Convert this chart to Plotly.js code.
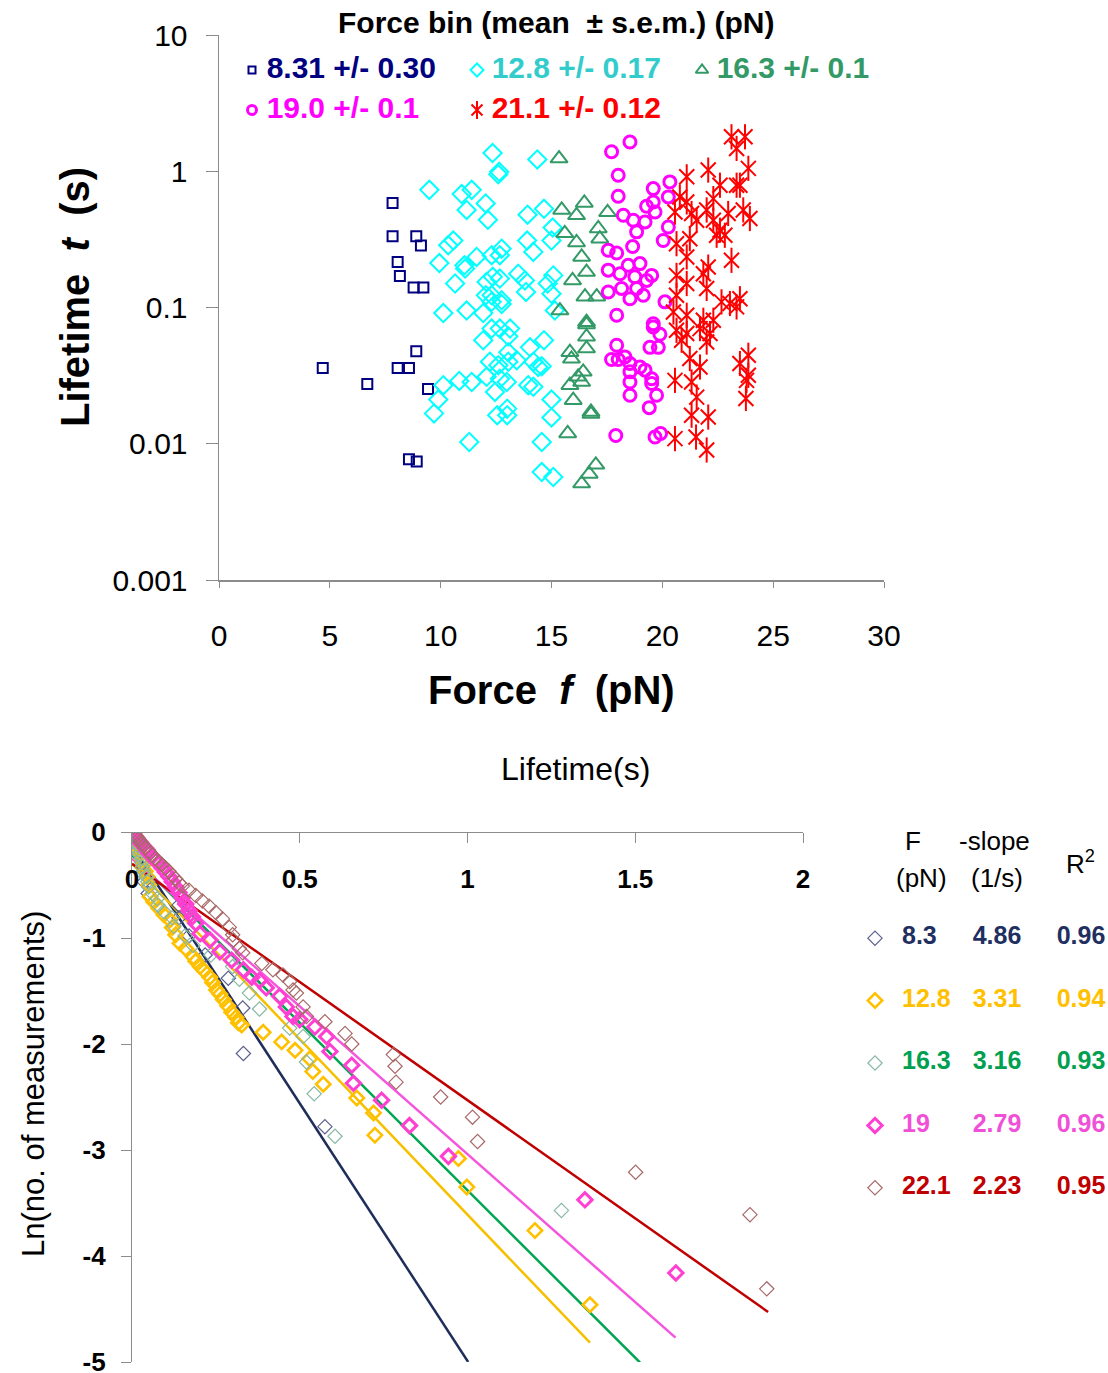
<!DOCTYPE html>
<html><head><meta charset="utf-8">
<script src="https://cdn.plot.ly/plotly-3.0.1.min.js"></script>
<style>html,body{margin:0;padding:0;background:#fff}#chart{width:1108px;height:1373px}</style>
</head><body><div id="chart"></div>
<script>
// ---------------- TOP CHART DATA (force in pN, lifetime in s) ----------------
const binMeans = ["8.31", "12.8", "16.3", "19.0", "21.1"];
const binSems  = ["0.30", "0.17", "0.1", "0.1", "0.12"];

const navyF = [7.83,7.83,8.90,9.11,8.06,8.16,8.78,9.22,8.90,4.68,8.06,8.57,6.69,9.43,8.57,8.92];
const navyT = [0.585,0.333,0.333,0.285,0.216,0.170,0.140,0.140,0.0477,0.036,0.036,0.036,0.0275,0.0252,0.0077,0.0074];

const cyanF = [12.34,14.36,12.64,12.60,9.49,10.95,11.40,12.03,11.17,12.13,13.92,14.66,15.05,15.00,10.57,10.34,13.90,14.18,9.94,11.07,
  11.10,11.62,12.30,12.75,12.67,10.65,12.07,12.35,12.67,12.04,12.30,12.75,13.50,13.80,13.85,15.08,15.00,14.83,15.15,
  10.12,11.17,11.92,12.75,12.30,11.92,12.30,12.67,13.13,13.05,14.03,14.66,13.05,12.22,12.60,13.05,13.43,14.18,14.40,14.56,
  12.07,12.67,12.98,13.95,14.18,10.12,10.84,11.40,9.89,9.70,12.45,12.55,13.00,13.00,15.00,15.00,11.29,14.56,14.56,15.08];
const cyanT = [1.36,1.22,0.99,0.95,0.73,0.68,0.73,0.58,0.52,0.44,0.48,0.53,0.386,0.31,0.31,0.286,0.31,0.256,0.212,0.204,
  0.193,0.235,0.242,0.27,0.242,0.15,0.154,0.168,0.163,0.123,0.123,0.113,0.177,0.158,0.13,0.172,0.126,0.15,0.095,
  0.091,0.095,0.091,0.106,0.11,0.0575,0.07,0.07,0.07,0.0615,0.051,0.0575,0.047,0.040,0.0377,0.040,0.041,0.040,0.0366,0.037,
  0.031,0.030,0.0284,0.0269,0.0262,0.0269,0.0289,0.0284,0.0211,0.0167,0.024,0.0162,0.0181,0.0162,0.0211,0.0156,0.0103,0.0103,0.0062,0.0057];

const greenF = [15.34,15.46,16.13,16.48,17.53,17.11,15.60,16.13,17.18,16.36,16.58,15.95,16.51,17.04,15.38,16.58,
  16.58,16.58,16.58,15.83,15.90,16.43,16.20,15.83,16.36,15.98,16.78,16.78,15.73,17.00,16.70,16.36];
const greenT = [1.24,0.52,0.475,0.585,0.50,0.38,0.35,0.30,0.32,0.235,0.182,0.158,0.12,0.12,0.095,0.078,
  0.075,0.061,0.050,0.047,0.042,0.0337,0.031,0.0269,0.0284,0.0209,0.0171,0.0165,0.0119,0.0070,0.0060,0.0051];

const magF = [17.71,18.54,18.01,18.01,19.59,20.34,20.27,19.59,19.29,19.67,18.24,18.69,19.22,18.84,20.27,20.04,18.66,17.56,17.94,17.56,
  18.09,18.46,18.99,18.76,19.29,19.52,17.56,18.16,18.84,19.14,18.54,20.12,17.94,19.59,
  19.59,19.89,17.94,19.44,19.82,17.71,18.01,18.31,18.54,18.99,19.22,18.54,19.52,18.54,19.52,18.54,19.74,19.41,17.90,19.67,19.92];
const magT = [1.39,1.64,0.935,0.656,0.746,0.835,0.648,0.595,0.553,0.502,0.475,0.437,0.425,0.359,0.39,0.31,0.28,0.263,0.251,0.188,
  0.177,0.204,0.21,0.168,0.158,0.172,0.13,0.138,0.138,0.123,0.116,0.11,0.0877,0.076,
  0.072,0.0636,0.0528,0.051,0.051,0.0415,0.0415,0.0434,0.0388,0.0366,0.0347,0.0337,0.030,0.0284,0.0277,0.0227,0.0227,0.0184,0.0115,0.0112,0.0119];

const redF = [23.12,23.73,23.35,23.88,22.07,21.10,22.60,23.35,23.50,20.79,20.57,21.32,21.10,22.30,22.00,22.97,23.65,23.95,21.55,22.30,
  22.60,22.45,22.82,20.64,21.24,21.10,23.12,20.64,22.07,21.85,21.10,22.00,20.64,22.67,23.05,23.50,23.35,21.10,21.85,22.30,20.50,
  20.64,21.10,21.70,22.15,22.00,20.87,21.24,21.70,23.88,23.50,23.88,23.80,20.57,21.32,21.55,23.77,21.32,22.07,20.57,21.52,22.00];
const redT = [1.79,1.79,1.47,1.05,1.02,0.91,0.79,0.79,0.79,0.648,0.502,0.49,0.595,0.63,0.52,0.49,0.52,0.45,0.437,0.437,
  0.369,0.339,0.339,0.294,0.32,0.235,0.222,0.172,0.198,0.177,0.15,0.138,0.123,0.11,0.107,0.116,0.101,0.0877,0.0806,0.0806,0.0927,
  0.068,0.0644,0.070,0.0644,0.0558,0.0575,0.0422,0.0366,0.0446,0.0388,0.0318,0.0292,0.0292,0.0284,0.022,0.0215,0.0162,0.0157,0.0109,0.0112,0.0090];

// ---------------- BOTTOM CHART DATA (lifetime s, ln(no. of measurements)) ----------------
const fitForce  = [8.3, 12.8, 16.3, 19, 22.1];
const fitSlope  = [4.86, 3.31, 3.16, 2.79, 2.23];
const fitR2     = [0.96, 0.94, 0.93, 0.96, 0.95];
const fitIntercept = [-0.13, -0.30, -0.22, -0.25, -0.30];
const fitEnd    = [1.002, 1.365, 1.514, 1.62, 1.896];

const s83X = [0.007,0.008,0.025,0.028,0.036,0.036,0.036,0.048,0.14,0.14,0.17,0.218,0.287,0.33,0.332,0.575];
const s83Y = [0,-0.06,-0.13,-0.21,-0.29,-0.37,-0.47,-0.58,-0.69,-0.81,-0.98,-1.16,-1.38,-1.66,-2.09,-2.78];

const s128X = [0.005,0.01,0.015,0.02,0.025,0.03,0.035,0.04,0.045,0.05,0.054,0.065,0.08,0.095,0.113,0.12,0.13,0.143,0.16,0.183,
  0.19,0.203,0.215,0.232,0.24,0.252,0.262,0.272,0.285,0.297,0.31,0.317,0.327,0.391,0.446,0.486,0.53,0.539,0.57,0.67,
  0.72,0.724,0.973,0.998,1.201,1.365];
const s128Y = [-0.02,-0.05,-0.10,-0.15,-0.20,-0.26,-0.31,-0.37,-0.42,-0.50,-0.61,-0.66,-0.72,-0.78,-0.83,-0.90,-0.97,-1.05,-1.10,-1.18,
  -1.22,-1.27,-1.31,-1.37,-1.42,-1.49,-1.53,-1.58,-1.64,-1.70,-1.75,-1.80,-1.82,-1.89,-1.98,-2.06,-2.14,-2.26,-2.38,-2.51,
  -2.65,-2.86,-3.08,-3.35,-3.76,-4.46];

const s163X = [0.005,0.006,0.007,0.012,0.017,0.018,0.021,0.027,0.029,0.031,0.034,0.042,0.047,0.05,0.061,0.075,0.078,0.095,0.12,0.125,
  0.158,0.182,0.235,0.30,0.32,0.35,0.38,0.47,0.51,0.52,0.543,0.605,1.28];
const s163Y = [0,-0.03,-0.06,-0.10,-0.13,-0.17,-0.21,-0.25,-0.29,-0.33,-0.37,-0.42,-0.47,-0.52,-0.58,-0.63,-0.69,-0.75,-0.81,-0.89,
  -0.98,-1.07,-1.16,-1.27,-1.39,-1.52,-1.67,-1.85,-1.93,-2.17,-2.47,-2.87,-3.57];

const s19X = [0,0.005,0.01,0.015,0.02,0.025,0.03,0.04,0.045,0.05,0.06,0.07,0.08,0.09,0.10,0.11,0.12,0.13,0.14,0.15,
  0.16,0.17,0.18,0.19,0.203,0.232,0.262,0.297,0.332,0.357,0.38,0.40,0.44,0.46,0.48,0.50,0.545,0.58,0.59,0.655,
  0.66,0.744,0.827,0.943,1.35,1.621];
const s19Y = [0,-0.02,-0.04,-0.06,-0.08,-0.10,-0.12,-0.15,-0.17,-0.20,-0.23,-0.27,-0.30,-0.34,-0.38,-0.42,-0.47,-0.52,-0.57,-0.62,
  -0.68,-0.74,-0.80,-0.86,-0.96,-1.02,-1.13,-1.21,-1.30,-1.37,-1.40,-1.47,-1.55,-1.65,-1.74,-1.77,-1.84,-1.93,-2.07,-2.20,
  -2.37,-2.53,-2.77,-3.06,-3.47,-4.16];

const s221X = [0.005,0.01,0.015,0.02,0.025,0.03,0.035,0.04,0.05,0.055,0.06,0.07,0.08,0.09,0.10,0.11,0.12,0.13,0.14,0.15,
  0.17,0.19,0.21,0.23,0.25,0.27,0.29,0.30,0.302,0.32,0.33,0.387,0.42,0.45,0.47,0.48,0.49,0.51,0.52,0.575,
  0.635,0.655,0.779,0.784,0.787,0.92,1.015,1.03,1.501,1.842,1.892];
const s221Y = [-0.02,-0.03,-0.05,-0.07,-0.09,-0.11,-0.13,-0.15,-0.18,-0.20,-0.22,-0.25,-0.28,-0.31,-0.34,-0.37,-0.41,-0.44,-0.48,-0.51,
  -0.55,-0.60,-0.65,-0.70,-0.76,-0.82,-0.90,-0.97,-1.02,-1.10,-1.14,-1.24,-1.30,-1.35,-1.41,-1.49,-1.52,-1.65,-1.74,-1.79,
  -1.90,-2.00,-2.10,-2.21,-2.36,-2.50,-2.69,-2.92,-3.21,-3.61,-4.31];

// ---------------- LAYOUT / STYLE ----------------
const W = 1108, H = 1373;
const PX = v => v / W, PY = v => 1 - v / H;
const ARIAL = "Liberation Sans, Arial, sans-serif";

const topSeries = [
  {x: navyF,  y: navyT,  sym: ['square-open'],         size: [10], color: '#000080', lw: 2, text: '#000080'},
  {x: cyanF,  y: cyanT,  sym: ['diamond-open'],        size: [14], color: '#00FFFF', lw: 2, text: '#33CCCC'},
  {x: greenF, y: greenT, sym: ['triangle-up-open'],    size: [15], color: '#339966', lw: 2, text: '#339966'},
  {x: magF,   y: magT,   sym: ['circle-open'],         size: [12], color: '#FF00FF', lw: 3, text: '#FF00FF'},
  {x: redF,   y: redT,   sym: ['x-thin', 'line-ns'],   size: [15, 18], color: '#FF0000', lw: 2, text: '#FF0000'}
];

const botSeries = [
  {x: s83X,  y: s83Y,  mcolor: '#5B5F8F', mlw: 1.2, lcolor: '#1F2D5A', tcolor: '#1F3060'},
  {x: s128X, y: s128Y, mcolor: '#FFC000', mlw: 2.6, lcolor: '#F5C000', tcolor: '#FFC000'},
  {x: s163X, y: s163Y, mcolor: '#88B8A4', mlw: 1.2, lcolor: '#00A651', tcolor: '#00A050'},
  {x: s19X,  y: s19Y,  mcolor: '#FF3FD2', mlw: 3.0, lcolor: '#F555DD', tcolor: '#F050D8'},
  {x: s221X, y: s221Y, mcolor: '#A86868', mlw: 1.2, lcolor: '#C00000', tcolor: '#C00000'}
];

const traces = [];

// top scatter
topSeries.forEach(s => {
  s.sym.forEach((sym, k) => {
    traces.push({
      type: 'scatter', mode: 'markers', x: s.x, y: s.y, xaxis: 'x', yaxis: 'y',
      marker: {symbol: sym, size: s.size[k], color: s.color, line: {color: s.color, width: s.lw}},
      hoverinfo: 'skip'
    });
  });
});

// top legend keys (overlay axis x3/y3): one column = 225 px
const legendTextOffset = 0.065;
topSeries.forEach((s, i) => {
  const col = i % 3, row = Math.floor(i / 3);
  s.sym.forEach((sym, k) => {
    traces.push({
      type: 'scatter', mode: 'markers', x: [col], y: [row], xaxis: 'x3', yaxis: 'y3',
      marker: {symbol: sym, size: Math.round(s.size[k] * 0.72), color: s.color, line: {color: s.color, width: s.lw}},
      cliponaxis: false, hoverinfo: 'skip'
    });
  });
  traces.push({
    type: 'scatter', mode: 'text', x: [col + legendTextOffset], y: [row], xaxis: 'x3', yaxis: 'y3',
    text: ['<b>' + binMeans[i] + ' +/- ' + binSems[i] + '</b>'],
    textposition: 'middle right', textfont: {family: ARIAL, size: 30, color: s.text},
    cliponaxis: false, hoverinfo: 'skip'
  });
});

// bottom fit lines
botSeries.forEach((s, i) => {
  traces.push({
    type: 'scatter', mode: 'lines', xaxis: 'x2', yaxis: 'y2',
    x: [0, fitEnd[i]], y: [fitIntercept[i], fitIntercept[i] - fitSlope[i] * fitEnd[i]],
    line: {color: s.lcolor, width: 2.5}, hoverinfo: 'skip'
  });
});
// bottom data points
botSeries.forEach(s => {
  traces.push({
    type: 'scatter', mode: 'markers', xaxis: 'x2', yaxis: 'y2', x: s.x, y: s.y,
    marker: {symbol: 'diamond-open', size: 11, color: s.mcolor, line: {color: s.mcolor, width: s.mlw}},
    hoverinfo: 'skip'
  });
});

// bottom table (overlay axis x4/y4, x in page pixels)
const rows = fitForce.map((_, i) => i);
const tableX = {key: 875, F: 902, slope: 997, r2: 1081};
traces.push({
  type: 'scatter', mode: 'markers', xaxis: 'x4', yaxis: 'y4',
  x: rows.map(() => tableX.key), y: rows,
  marker: {symbol: 'diamond-open', size: 11, color: botSeries.map(s => s.mcolor),
           line: {color: botSeries.map(s => s.mcolor), width: botSeries.map(s => s.mlw)}},
  cliponaxis: false, hoverinfo: 'skip'
});
const tableFont = {family: ARIAL, size: 25, color: botSeries.map(s => s.tcolor)};
traces.push({
  type: 'scatter', mode: 'text', xaxis: 'x4', yaxis: 'y4',
  x: rows.map(() => tableX.F), y: rows, text: fitForce.map(v => '<b>' + v + '</b>'),
  textposition: 'middle right', textfont: tableFont, cliponaxis: false, hoverinfo: 'skip'
});
traces.push({
  type: 'scatter', mode: 'text', xaxis: 'x4', yaxis: 'y4',
  x: rows.map(() => tableX.slope), y: rows, text: fitSlope.map(v => '<b>' + v.toFixed(2) + '</b>'),
  textposition: 'middle center', textfont: tableFont, cliponaxis: false, hoverinfo: 'skip'
});
traces.push({
  type: 'scatter', mode: 'text', xaxis: 'x4', yaxis: 'y4',
  x: rows.map(() => tableX.r2), y: rows, text: fitR2.map(v => '<b>' + v.toFixed(2) + '</b>'),
  textposition: 'middle center', textfont: tableFont, cliponaxis: false, hoverinfo: 'skip'
});

const axisGray = '#8C8C8C';
const NBSP = '\u00a0';
const ann = (text, x, y, size, extra) => Object.assign({
  text: text, x: PX(x), y: PY(y), xref: 'paper', yref: 'paper', xanchor: 'center', yanchor: 'middle',
  showarrow: false, font: {family: ARIAL, size: size, color: '#000'}
}, extra || {});

const layout = {
  width: W, height: H, margin: {l: 0, r: 0, t: 0, b: 0},
  paper_bgcolor: '#fff', plot_bgcolor: 'rgba(0,0,0,0)', showlegend: false, hovermode: false,
  xaxis: {
    domain: [PX(219), PX(884)], range: [0, 30], anchor: 'y', dtick: 5, tick0: 0,
    showgrid: false, zeroline: false, showline: true, linecolor: axisGray, linewidth: 1.5,
    ticks: 'outside', ticklen: 6, tickcolor: axisGray, ticklabelstandoff: 22,
    tickfont: {family: ARIAL, size: 30, color: '#000'}
  },
  yaxis: {
    domain: [PY(580), PY(35)], type: 'log', range: [-3, 1], anchor: 'x',
    tickvals: [0.001, 0.01, 0.1, 1, 10], ticktext: ['0.001', '0.01', '0.1', '1', '10'],
    showgrid: false, zeroline: false, showline: true, linecolor: axisGray, linewidth: 1.5,
    ticks: 'outside', ticklen: 12, tickcolor: axisGray, ticklabelstandoff: 12,
    tickfont: {family: ARIAL, size: 30, color: '#000'}
  },
  xaxis2: {
    domain: [PX(132), PX(803)], range: [0, 2], anchor: 'free', position: PY(832), side: 'bottom',
    tickvals: [0, 0.5, 1, 1.5, 2], ticktext: ['0', '0.5', '1', '1.5', '2'],
    showgrid: false, zeroline: false, showline: true, linecolor: axisGray, linewidth: 1.2,
    ticks: 'outside', ticklen: 10, tickcolor: axisGray, ticklabelstandoff: 14,
    tickfont: {family: ARIAL, size: 26, color: '#000', weight: 'bold'}
  },
  yaxis2: {
    domain: [PY(1362), PY(832)], range: [-5, 0], anchor: 'x2',
    tickvals: [0, -1, -2, -3, -4, -5], ticktext: ['0', '-1', '-2', '-3', '-4', '-5'],
    showgrid: false, zeroline: false, showline: true, linecolor: axisGray, linewidth: 1.2,
    ticks: 'outside', ticklen: 10, tickcolor: axisGray, ticklabelstandoff: 10, ticklabeloverflow: 'allow',
    tickfont: {family: ARIAL, size: 26, color: '#000', weight: 'bold'}
  },
  xaxis3: {domain: [PX(252 - 112.5), PX(702 + 112.5)], range: [-0.5, 2.5], anchor: 'y3', visible: false, fixedrange: true},
  yaxis3: {domain: [PY(130), PY(50)], range: [1.5, -0.5], anchor: 'x3', visible: false, fixedrange: true},
  xaxis4: {domain: [0, 1], range: [0, W], anchor: 'y4', visible: false, fixedrange: true},
  yaxis4: {domain: [PY(938 + 62.5 * 4 + 31), PY(938 - 31)], range: [4.5, -0.5], anchor: 'x4', visible: false, fixedrange: true},
  annotations: [
    ann('<b>Force bin (mean ' + NBSP + '± s.e.m.) (pN)</b>', 556, 23, 30),
    ann('<b>Force' + NBSP + NBSP + '<i>f</i>' + NBSP + NBSP + '(pN)</b>', 551, 690, 40),
    ann('<b>Lifetime' + NBSP + NBSP + '<i>t</i>' + NBSP + NBSP + '(s)</b>', 75, 297, 40, {textangle: -90}),
    ann('Lifetime(s)', 575, 769, 32),
    ann('Ln(no. of measurements)', 33, 1084, 31, {textangle: -90}),
    ann('F', 913, 841, 26),
    ann('(pN)', 921, 878, 26),
    ann('-slope', 994, 841, 26),
    ann('(1/s)', 997, 878, 26),
    ann('R<sup>2</sup>', 1080, 862, 26)
  ]
};

Plotly.newPlot('chart', traces, layout, {staticPlot: true, displayModeBar: false});
</script>
</body></html>
